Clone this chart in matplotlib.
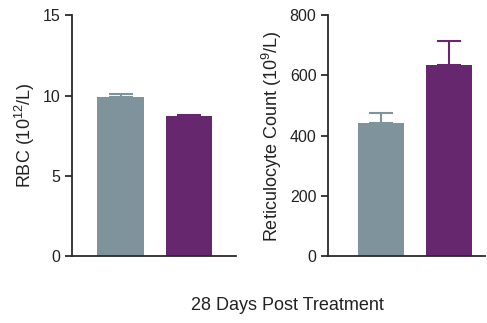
import matplotlib
matplotlib.use("Agg")
from matplotlib import pyplot as plt

plt.rcParams['font.family'] = ['Liberation Sans', 'DejaVu Sans']
plt.rcParams['mathtext.fontset'] = 'custom'
plt.rcParams['mathtext.rm'] = 'Liberation Sans'
plt.rcParams['mathtext.it'] = 'Liberation Sans:italic'

groups = ["Control", "Treated"]
colors = ["#7f939c", "#66276e"]

rbc = [9.9, 8.7]
rbc_err = [0.2, 0.06]

retic = [442, 636]
retic_err = [34, 78]

fig = plt.figure(figsize=(4.87, 3.23), dpi=100)
ax1 = fig.add_axes([0.148, 0.207, 0.337, 0.746])
ax2 = fig.add_axes([0.674, 0.207, 0.322, 0.746])

def draw(ax, vals, errs, ylim, ticks, label, xlim):
    x = list(range(len(vals)))
    for i in x:
        ax.bar(i, vals[i], width=0.68, color=colors[i], zorder=2)
        ax.errorbar(i, vals[i], yerr=[[0], [errs[i]]], color=colors[i],
                    capsize=8.5, elinewidth=1.5, capthick=1.5, zorder=1)
    ax.set_ylim(*ylim)
    ax.set_yticks(ticks)
    ax.set_xlim(*xlim)
    ax.set_xticks([])
    ax.set_ylabel(label, fontsize=13, color="#222222")
    for s in ["top", "right"]:
        ax.spines[s].set_visible(False)
    for s in ["left", "bottom"]:
        ax.spines[s].set_color("#2a2a2a")
        ax.spines[s].set_linewidth(1.3)
    ax.tick_params(axis="y", labelsize=11.5, length=5, width=1.3,
                   color="#2a2a2a", labelcolor="#222222")

draw(ax1, rbc, rbc_err, (0, 15), [0, 5, 10, 15], r"RBC (10$^{12}$/L)", (-0.71, 1.69))
draw(ax2, retic, retic_err, (0, 800), [0, 200, 400, 600, 800],
     r"Reticulocyte Count (10$^{9}$/L)", (-0.78, 1.53))

fig.text(0.591, 0.055, "28 Days Post Treatment", ha="center", va="center",
         fontsize=13, color="#222222")

fig.savefig("out.png", dpi=100)
